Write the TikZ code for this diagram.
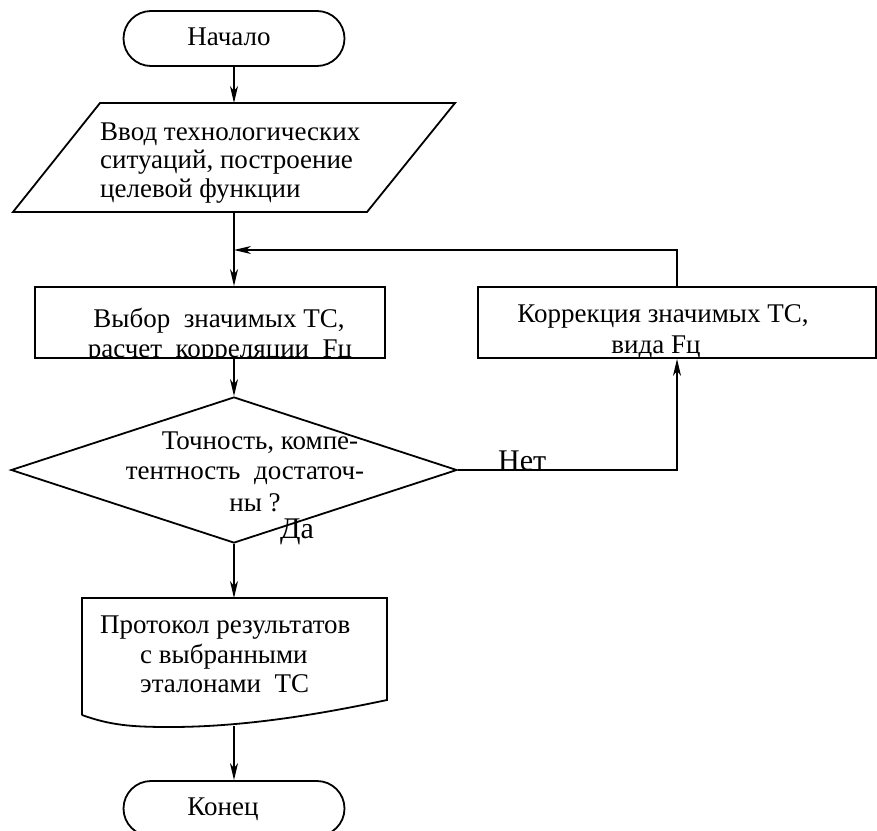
\documentclass[tikz,border=0pt]{standalone}
\usepackage{fontspec}
\setmainfont{Liberation Serif}
\usetikzlibrary{shapes.misc,shapes.geometric,arrows.meta}
\begin{document}
\begin{tikzpicture}[x=1pt,y=-1pt,
  outline/.style={draw=black,line width=1.8pt},
  term/.style={rounded rectangle,outline,minimum width=221pt,minimum height=55pt,inner sep=0pt},
  box/.style={rectangle,outline,inner sep=0pt},
  frame/.style={rectangle,inner sep=0pt,outer sep=0pt},
  txt/.style={font=\fontsize{27}{30}\selectfont,inner sep=0pt},
  lab/.style={font=\fontsize{30}{32}\selectfont,inner sep=0pt},
  arr/.style={line width=1.5pt,-{Stealth[length=17pt,width=8pt,inset=5pt]}},
]
\useasboundingbox (0,0) rectangle (877,830);

% start and end terminals
\node[term] (start) at (234,38.5) {};
\node[txt,anchor=base] (startT) at (229,45) {Начало};
\node[term] (stop) at (234,808.5) {};
\node[txt,anchor=base] (stopT) at (223,815) {Конец};

% data input (parallelogram)
\node[frame,minimum width=442pt,minimum height=109pt] (in) at (234,157.5) {};
\draw[outline] (100,103) -- (455,103) -- (367,212) -- (13,212) -- cycle;
\node[txt,anchor=base west] (inA) at (100,140) {Ввод технологических};
\node[txt,anchor=base west] (inB) at (100,168) {ситуаций, построение};
\node[txt,anchor=base west] (inC) at (100,197) {целевой функции};

% selection box
\node[box,minimum width=350pt,minimum height=71pt] (r1) at (210,322.5) {};
\begin{scope}
  \clip (r1.north west) rectangle (r1.south east);
  \node[txt,anchor=base] (r1A) at (219,327) {Выбор\ \ значимых ТС,};
  \node[txt,anchor=base] (r1B) at (220,357) {расчет\ \ корреляции\ \ Fц};
\end{scope}

% correction box
\node[box,minimum width=398pt,minimum height=71pt] (r2) at (677,322.5) {};
\begin{scope}
  \clip (r2.north west) rectangle (r2.south east);
  \node[txt,anchor=base] (r2A) at (663,322) {Коррекция значимых ТС,};
  \node[txt,anchor=base] (r2B) at (656,353) {вида Fц};
\end{scope}

% decision
\node[diamond,outline,minimum width=446pt,minimum height=146pt,inner sep=0pt] (dec) at (234,470) {};
\node[txt,anchor=base] (decA) at (260,449) {Точность, компе-};
\node[txt,anchor=base] (decB) at (245,479) {тентность\ \ достаточ-};
\node[txt,anchor=base] (decC) at (255,511) {ны ?};

% result document
\node[frame,minimum width=305pt,minimum height=128pt] (doc) at (234,662) {};
\draw[outline] (82,715) -- (82,598) -- (387,598) -- (387,700)
  .. controls (330,712) and (250,727) .. (170,727)
  .. controls (130,727) and (110,725) .. (82,715);
\node[txt,anchor=base west] (docA) at (100,633) {Протокол результатов};
\node[txt,anchor=base west] (docB) at (140,663) {с выбранными};
\node[txt,anchor=base west] (docC) at (140,692) {эталонами\ \ ТС};

% branch labels
\node[lab,anchor=base west] (no) at (498,470) {Нет};
\node[lab,anchor=base west] (yes) at (280,538) {Да};

% connectors
\coordinate (join) at (234,250);
\draw[arr] (start.south) -- (in.north);
\draw[arr] (in.south) -- (in.south |- r1.north);
\draw[arr] (in.south |- r1.south) -- (dec.north);
\draw[arr] (dec.south) -- (doc.north);
\draw[arr] (doc.south) -- (stop.north);
\draw[arr] (dec.east) -| (r2.south);
\draw[arr] (r2.north) |- (join);
\end{tikzpicture}
\end{document}
